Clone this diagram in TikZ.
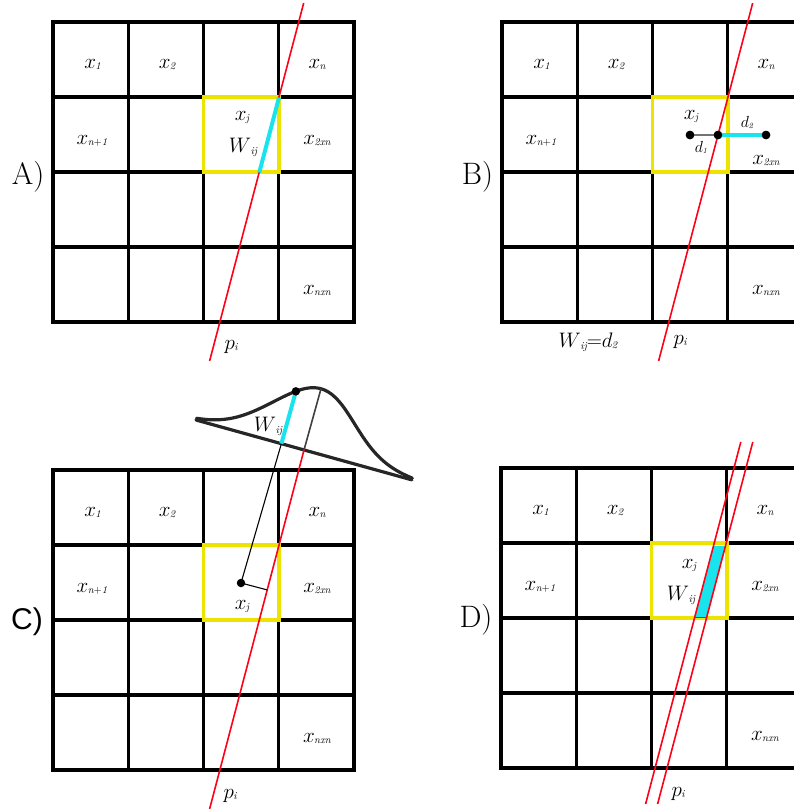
\RequirePackage{fix-cm}
\documentclass[tikz,border=0pt]{standalone}
\usepackage{fontspec}
\newfontfamily\arialf{Liberation Sans}
\usetikzlibrary{calc}
\definecolor{gridyel}{RGB}{236,228,0}
\definecolor{cyn}{RGB}{25,228,238}
\definecolor{redl}{RGB}{255,0,25}
\newcommand{\sbx}[2][1pt]{\mkern-0.5mu\raisebox{-#1}{$\scriptscriptstyle\mathit{#2}$}}
\newcommand{\xs}[1]{x\sbx{#1}}
\newcommand{\Wij}{W\sbx[1.8pt]{ij}}
\newcommand{\gridat}[2]{%
  \foreach \i in {0,1,2,3,4}{
    \draw[gridl] ({\i*75.25},0) -- ({\i*75.25},300);
    \draw[gridl] (0,{\i*75}) -- (301,{\i*75});
  }
  \draw[yel] (150.5,75) rectangle (225.75,150);
  \node[lab] (#1x1) at (39.5,42.5) {$\xs{1}$};
  \node[lab] (#1x2) at (114,42.5) {$\xs{2}$};
  \node[lab] (#1xn) at (264,42.5) {$\xs{n}$};
  \node[lab] (#1xna) at (39,119) {$\xs{n+1}$};
  \node[lab] (#1xtn) at (264,#2) {$\xs{2xn}$};
  \node[lab] (#1xnn) at (264,269) {$\xs{nxn}$};
}
\begin{document}
\begin{tikzpicture}[x=1pt,y=-1pt,
  gridl/.style={line width=3.4pt, black, line cap=rect},
  yel/.style={line width=3.6pt, draw=gridyel},
  lab/.style={inner sep=0pt, font=\fontsize{21}{24}\selectfont},
  smalllab/.style={inner sep=0pt, font=\fontsize{16}{19}\selectfont},
  big/.style={inner sep=0pt, font=\fontsize{31}{34}\selectfont},
  redline/.style={draw=redl, line width=1.6pt},
  dotn/.style={circle, fill=black, inner sep=0pt, minimum size=8.5pt},
  gcurve/.style={draw=black!85, line width=3.2pt, line cap=round},
  ]
\useasboundingbox (0,0) rectangle (794,809);
\clip (0,0) rectangle (794,809);

% ---------------- Panel A ----------------
\begin{scope}[shift={(53,22)}] \gridat{a}{119} \end{scope}
\coordinate (aR1) at (303.7,3);
\coordinate (aR2) at (209.6,361);
\draw[redline] (aR1) -- (aR2);
\coordinate (acT) at (279,97.5);
\coordinate (acB) at (259.3,172.5);
\draw[cyn, line width=4pt] (acT) -- (acB);
\node[lab] (axj) at (242,118) {$\xs{j}$};
\node[lab] (aW) at (243,147) {$\Wij$};
\node[lab] (api) at (231,347) {$p\sbx{i}$};
\node[big] (alab) at (28,177) {A)};

% ---------------- Panel B ----------------
\begin{scope}[shift={(502,22)}] \gridat{b}{139} \end{scope}
\coordinate (bR1) at (752.7,3);
\coordinate (bR2) at (658.6,361);
\draw[redline] (bR1) -- (bR2);
\node[dotn] (bd1) at (690,135) {};
\node[dotn] (bd2) at (718,135) {};
\node[dotn] (bd3) at (766,135) {};
\draw[black!55, line width=1.6pt] (bd1.center) -- (bd2.center);
\draw[cyn, line width=3.2pt] (bd2.center) -- (bd3.center);
\node[dotn] at (bd1) {};
\node[dotn] at (bd2) {};
\node[dotn] at (bd3) {};
\node[lab] (bxj) at (691,117) {$\xs{j}$};
\node[smalllab] (bdtwo) at (747,123) {$d\sbx{2}$};
\node[smalllab] (bdone) at (701,147) {$d\sbx{1}$};
\node[lab] (bW) at (588,342) {$\Wij{=}d\sbx{2}$};
\node[lab] (bpi) at (680,342) {$p\sbx{i}$};
\node[big] (blab) at (477.5,177) {B)};

% ---------------- Panel C ----------------
\begin{scope}[shift={(53,470)}] \gridat{c}{119} \end{scope}
\begin{scope}[shift={(196,420)}, rotate=-15.5, y=1pt]
  \draw[gcurve] plot[domain=0:224, samples=90, smooth]
     (\x, {63.5*exp(-((\x-112)*(\x-112))/(2*42*42))});
  \draw[gcurve] (0,0) -- (224,0);
  \coordinate (gbase) at (112.1,0);
  \coordinate (gpk) at (112.1,63.5);
  \coordinate (cb) at (88.6,0);
  \coordinate (ct) at (88.6,54.3);
\end{scope}
\coordinate (cR1) at (208.8,812);
\draw[redline] (cR1) -- (gbase);
\draw[black!75, line width=1.6pt] (gbase) -- (gpk);
\node[dotn] (cdot) at (241,583) {};
\draw[black, line width=1.1pt] (cdot.center) -- (cb);
\draw[black, line width=1.1pt] (cdot.center) -- ($(cR1)!(cdot.center)!(gbase)$);
\draw[cyn, line width=4pt] (cb) -- (ct);
\node[dotn] (gdot) at (ct) {};
\node[lab] (cW) at (268,426) {$\Wij$};
\node[lab] (cxj) at (242,607) {$\xs{j}$};
\node[lab] (cpi) at (230,796) {$p\sbx{i}$};
\node[inner sep=0pt, font=\arialf\fontsize{30}{34}\selectfont] (clab) at (27,622) {C)};

% ---------------- Panel D ----------------
\begin{scope}[shift={(501,468)}] \gridat{d}{119} \end{scope}
\coordinate (dq1) at (713.5,545.8);
\coordinate (dq2) at (725.5,545.8);
\coordinate (dq3) at (706.3,617.2);
\coordinate (dq4) at (694.3,617.2);
\fill[cyn] (dq1) -- (dq2) -- (dq3) -- (dq4) -- cycle;
\draw[redl, line width=1pt] (dq3) -- (dq4);
\coordinate (dL1a) at (740.8,442);
\coordinate (dL1b) at (645.6,804);
\coordinate (dL2a) at (752.8,442);
\coordinate (dL2b) at (657.6,804);
\draw[redline] (dL1a) -- (dL1b);
\draw[redline] (dL2a) -- (dL2b);
\node[lab] (dxj) at (689,566) {$\xs{j}$};
\node[lab] (dW) at (681,595) {$\Wij$};
\node[lab] (dpi) at (678,794) {$p\sbx{i}$};
\node[big] (dlab) at (476,620) {D)};
\end{tikzpicture}
\end{document}
